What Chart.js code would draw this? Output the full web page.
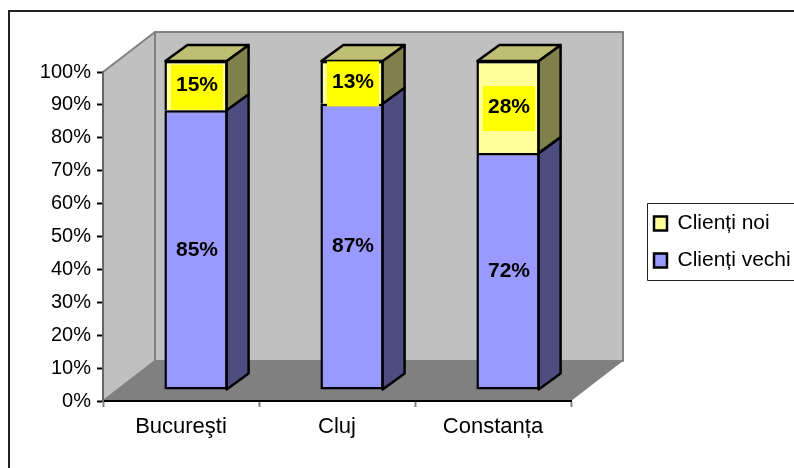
<!DOCTYPE html>
<html>
<head>
<meta charset="utf-8">
<title>Clienți</title>
<style>
  html, body { margin: 0; padding: 0; background: #fff; overflow: hidden; }
  canvas { display: block; }
</style>
<script src="https://cdn.jsdelivr.net/npm/chart.js@4/dist/chart.umd.min.js"></script>
</head>
<body>
<canvas id="clientChart" width="794" height="468"></canvas>
<script>
'use strict';
//** Data */

let cities = ['Bucureşti', 'Cluj', 'Constanța'];
let oldClients = [85, 87, 72];
let newClients = [15, 13, 28];
let percentTicks = [0, 10, 20, 30, 40, 50, 60, 70, 80, 90, 100];

//** Fake 3D settings */

const FONT = '"Liberation Sans", Arial, sans-serif';
const wallDepth = { x: 52, y: -40 };
const barShift = { x: 15, y: -11 };
const barDepth = { x: 22, y: -16 };

// darker shades for the faces that are not facing front
const sideColors = ['#4D4D80', '#80804D'];
const topColor = '#BFBF73';

function polygon(ctx, points, fill, stroke, width) {
  ctx.beginPath();
  ctx.moveTo(points[0][0], points[0][1]);
  for (let i = 1; i < points.length; i++) {
    ctx.lineTo(points[i][0], points[i][1]);
  }
  ctx.closePath();
  ctx.fillStyle = fill;
  ctx.fill();
  if (stroke) {
    ctx.strokeStyle = stroke;
    ctx.lineWidth = width;
    ctx.lineJoin = 'round';
    ctx.stroke();
  }
}

//** Outer frame, walls and floor go under the axes */

let boxPlugin = {
  id: 'box3d',
  beforeDraw(chart) {
    let ctx = chart.ctx;
    let x0 = chart.scales.x.left;
    let x1 = chart.scales.x.right;
    let y0 = chart.scales.y.bottom;
    let y1 = chart.scales.y.top;
    let dx = wallDepth.x;
    let dy = wallDepth.y;

    ctx.save();
    ctx.fillStyle = '#fff';
    ctx.fillRect(0, 0, chart.width, chart.height);

    ctx.strokeStyle = '#222';
    ctx.lineWidth = 2;
    ctx.strokeRect(9, 11, 800, 480);

    polygon(ctx, [[x0 + dx, y0 + dy], [x1 + dx, y0 + dy], [x1 + dx, y1 + dy], [x0 + dx, y1 + dy]], '#C0C0C0', '#808080', 2);
    polygon(ctx, [[x0, y0], [x0 + dx, y0 + dy], [x0 + dx, y1 + dy], [x0, y1]], '#C0C0C0', '#808080', 2);
    polygon(ctx, [[x0, y0], [x1, y0], [x1 + dx, y0 + dy], [x0 + dx, y0 + dy]], '#808080');

    // legend frame
    ctx.strokeStyle = '#222';
    ctx.lineWidth = 1;
    ctx.strokeRect(647.5, 203.5, 160, 77);
    ctx.restore();
  }
};

//** Side and top faces, then the library bars shifted onto the front plane */

let barsPlugin = {
  id: 'bars3d',
  afterLayout(chart) {
    // legend sits beside the plot, not inside it
    let legend = chart.legend;
    legend.left = 638;
    legend.right = 794;
    legend.top = 197;
    legend.bottom = 290;
  },
  beforeDatasetsDraw(chart) {
    let ctx = chart.ctx;
    let dx = barDepth.x;
    let dy = barDepth.y;
    ctx.save();
    ctx.translate(barShift.x, barShift.y);
    chart.data.datasets.forEach(function (dataset, d) {
      chart.getDatasetMeta(d).data.forEach(function (bar) {
        let right = bar.x + bar.width / 2 - 1;
        let left = bar.x - bar.width / 2 + 1;
        polygon(ctx, [[right, bar.base], [right + dx, bar.base + dy], [right + dx, bar.y + dy], [right, bar.y]], sideColors[d], '#000', 2.5);
        if (d === chart.data.datasets.length - 1) {
          polygon(ctx, [[left, bar.y], [right, bar.y], [right + dx, bar.y + dy], [left + dx, bar.y + dy]], topColor, '#000', 2.5);
        }
      });
    });
  },
  afterDatasetsDraw(chart) {
    let ctx = chart.ctx;
    ctx.restore();

    ctx.save();
    ctx.font = 'bold 21px ' + FONT;
    ctx.textAlign = 'center';
    ctx.textBaseline = 'middle';
    chart.data.datasets.forEach(function (dataset, d) {
      chart.getDatasetMeta(d).data.forEach(function (bar, i) {
        let cx = bar.x + barShift.x + 1;
        let cy = (bar.y + bar.base) / 2 + barShift.y;
        if (d === 1) {
          ctx.fillStyle = '#FFFF00';
          ctx.fillRect(cx - 26, cy - 21, 52, 45);
        }
        ctx.fillStyle = '#000';
        ctx.fillText(dataset.data[i] + '%', cx, cy);
      });
    });
    ctx.restore();
  }
};

//** Chart */

let clientChart = new Chart(document.getElementById('clientChart'), {
  type: 'bar',
  data: {
    labels: cities,
    datasets: [{
      label: 'Clienți vechi',
      data: oldClients,
      backgroundColor: '#9999FF',
      borderColor: '#000',
      borderWidth: 2.5,
      borderSkipped: false,
      clip: false
    },
    {
      label: 'Clienți noi',
      data: newClients,
      backgroundColor: '#FFFF99',
      borderColor: '#000',
      borderWidth: 2.5,
      // the lower bar already draws the dividing line
      borderSkipped: 'bottom',
      clip: false
    }]
  },
  options: {
    responsive: false,
    animation: false,
    barPercentage: 0.405,
    categoryPercentage: 1,
    layout: { padding: { left: 0, top: 72, right: 223, bottom: 0 } },
    plugins: {
      tooltip: { enabled: false },
      title: { display: false },
      legend: {
        position: 'chartArea',
        align: 'start',
        reverse: true,
        labels: {
          boxWidth: 13,
          boxHeight: 14,
          padding: 16,
          color: '#000',
          font: { family: FONT, size: 21 }
        }
      }
    },
    scales: {
      x: {
        stacked: true,
        afterFit(scale) { scale.height = 67; },
        grid: { drawOnChartArea: false, tickLength: 6, tickColor: '#808080', tickWidth: 2 },
        border: { color: '#000', width: 2 },
        ticks: { color: '#000', padding: 7, maxRotation: 0, font: { family: FONT, size: 22 } }
      },
      y: {
        stacked: true,
        min: 0,
        max: 100,
        afterFit(scale) { scale.width = 103; },
        afterBuildTicks(scale) {
          scale.ticks = percentTicks.map(function (v) { return { value: v }; });
        },
        grid: { drawOnChartArea: false, tickLength: 6, tickColor: '#000', tickWidth: 2 },
        border: { color: '#666', width: 2 },
        ticks: {
          color: '#000',
          padding: 6,
          font: { family: FONT, size: 20 },
          callback: function (value) { return value + '%'; }
        }
      }
    }
  },
  plugins: [boxPlugin, barsPlugin]
});
</script>
</body>
</html>
